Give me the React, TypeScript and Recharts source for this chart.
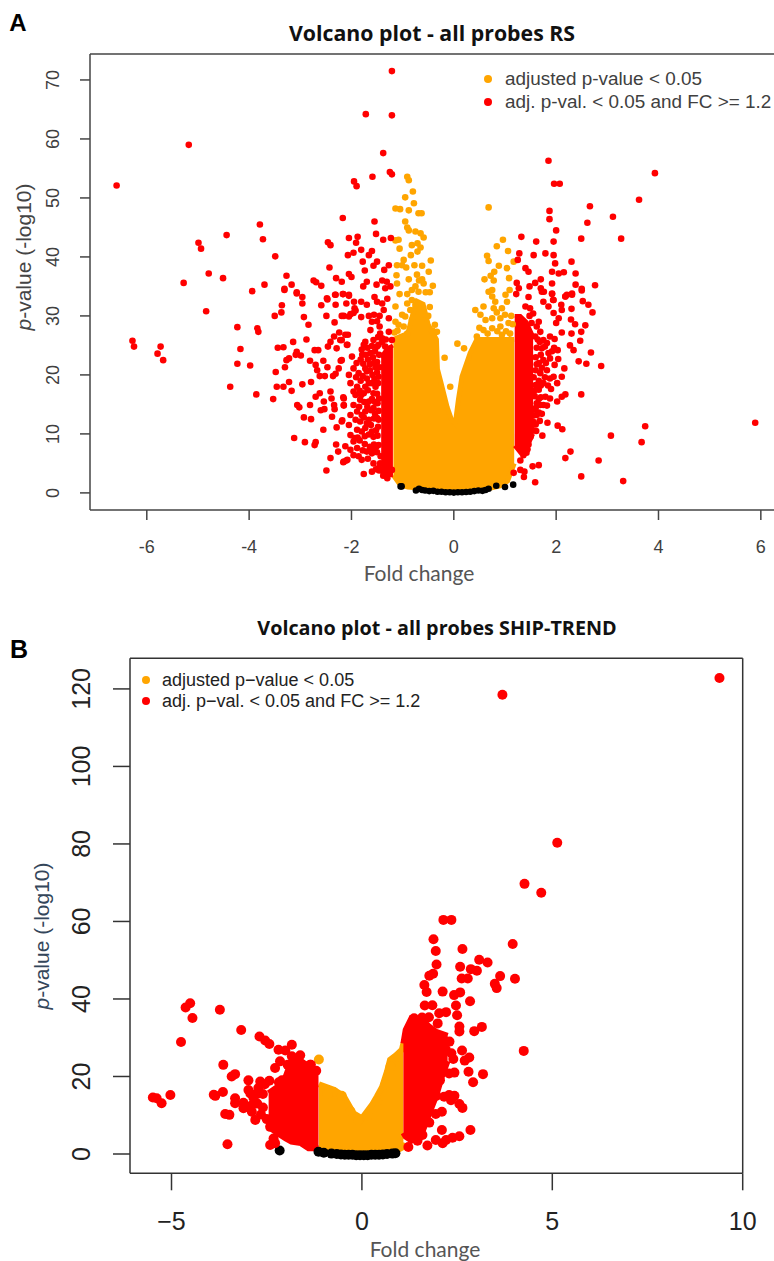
import React from 'react';
import {
  Area,
  ComposedChart,
  ReferenceLine,
  Scatter,
  XAxis,
  YAxis,
} from 'recharts';

type Pair = [number, number];
type Band = [number, number, number];

const ORANGE = '#ffa500';
const RED = '#ff0000';
const BLACK = '#000000';

// Panel A (RS) -----------------------------------------------------------
const rsXTicks = [-6, -4, -2, 0, 2, 4, 6];
const rsYTicks = [0, 10, 20, 30, 40, 50, 60, 70];

// solid parts of the cloud: x, lower edge, upper edge
const rsOrangeBand: Band[] = [
  [-1.18, 3, 26], [-1.05, 1.4, 26.5], [-0.9, 1, 27], [-0.78, 0.9, 31], [-0.72, 0.8, 32.5], [-0.6, 0.8, 32],
  [-0.5, 0.8, 28.5], [-0.34, 0.7, 26], [-0.32, 0.7, 21], [-0.26, 0.7, 19], [-0.13, 0.6, 14.5], [-0.05, 0.6, 12.5],
  [0.03, 0.6, 11.8], [0.09, 0.6, 15.8], [0.16, 0.7, 19.7], [0.32, 0.7, 23.7], [0.45, 0.7, 26],
  [0.7, 0.8, 26], [0.9, 1.2, 26], [1.05, 2, 26], [1.18, 5, 26],
];
const rsRedBandLeft: Band[] = [
  [-1.42, 4.5, 23], [-1.3, 3, 24.5], [-1.19, 3, 25],
];
const rsRedBandRight: Band[] = [
  [1.19, 8, 30], [1.3, 6.8, 30], [1.42, 7.5, 29], [1.55, 10, 26.5],
];

const rsRedFarLeft: Pair[] = [
  [-6.59, 52.1], [-5.18, 59], [-6.28, 25.8], [-6.25, 24.8], [-5.73, 24.8], [-5.79, 23.6], [-5.68, 22.5], [-4.84, 30.8],
  [-4.23, 28.1], [-4.17, 24.4], [-4.23, 21.9], [-3.98, 21.6], [-4.37, 18], [-3.86, 16.7], [-3.84, 27.9], [-3.82, 27.3],
  [-3.53, 15.9], [-3.5, 30], [-3.37, 30.6], [-3.36, 31.8], [-3.14, 25.6], [-3.44, 24.6], [-3.33, 24.7], [-3.48, 20.5],
  [-3.3, 21.3], [-3.27, 22.5], [-3.22, 22.8], [-3.09, 23.4], [-3.07, 23.9], [-2.99, 23.3], [-3.22, 18.8], [-3.46, 18],
  [-3.33, 18], [-3.17, 17.3], [-2.96, 18.4], [-2.79, 18.8], [-3.06, 14.9], [-3.02, 14.5], [-2.81, 14.9], [-2.93, 12.8],
  [-2.79, 12.5], [-3.12, 9.3], [-2.91, 8.6], [-2.7, 8.6], [-2.72, 8.1], [-2.88, 26], [-2.93, 29.8], [-2.84, 28.5],
  [-2.96, 32.1], [-2.96, 33.2], [-3.07, 33.8], [-3.31, 34.4], [-3.94, 34.2], [-4.99, 42.4], [-4.94, 41.4], [-4.44, 43.7],
  [-3.79, 45.5], [-3.73, 43], [-3.49, 40.1], [-4.79, 37.2], [-4.51, 36.4], [-5.28, 35.6], [-3.7, 35.3], [-3.27, 36.8],
  [-3.17, 35.3], [-3.31, 34.6], [-3.07, 34], [-2.74, 36], [-2.69, 35.7], [-2.59, 35.1],
];
const rsRedMidLeft: Pair[] = [
  [-2.59, 31.8], [-2.47, 32.8], [-2.49, 30], [-2.31, 31.9], [-2.31, 33.6], [-2.17, 33.7], [-2.05, 33.6], [-2.33, 28.9],
  [-2.1, 32.1], [-1.95, 32.4], [-1.81, 32.4], [-2.15, 30], [-2.02, 30.3], [-1.92, 30.9], [-2.24, 27.2], [-2.34, 26.5],
  [-2.41, 25.6], [-2.46, 24.8], [-2.29, 24.5], [-2.19, 25.9], [-2.07, 26.8], [-2.08, 25.1], [-2.72, 24.2], [-2.65, 24.2],
  [-2.81, 22.4], [-2.7, 21.7], [-2.67, 20.8], [-2.55, 22.4], [-2.47, 21.3], [-2.62, 19.8], [-2.52, 19.8], [-2.36, 19.8],
  [-2.31, 20.2], [-2.25, 21.1], [-2.21, 22.4], [-2.62, 16.9], [-2.7, 16.3], [-2.41, 17.2], [-2.54, 15.5], [-2.6, 14],
  [-2.53, 14.2], [-2.39, 16], [-2.34, 14.9], [-2.33, 14.2], [-2.38, 12.9], [-2.16, 16.2], [-2.15, 14.8], [-2.18, 12.3],
  [-2.29, 11.1], [-2.55, 10.7], [-2.3, 8.2], [-2.26, 7], [-2.41, 5.9], [-2.49, 3.8], [-2.16, 5.2], [-2.1, 5.5],
  [-2.46, 42.5], [-2.41, 42], [-2.17, 46.6], [-1.95, 52.8], [-1.9, 52], [-2.05, 43.2], [-1.88, 43.4], [-1.91, 42.4],
  [-1.81, 41.2], [-2.07, 40.3], [-1.96, 40.7], [-1.78, 39.2], [-2.43, 38.2], [-1.74, 37.7], [-2.3, 36.4], [-2.19, 35.8],
  [-2.05, 37.1], [-2, 36.6], [-2.48, 33], [-2.32, 33.6], [-1.7, 35.8], [-1.77, 35], [-2.16, 33.7], [-2.05, 33.4],
  [-1.94, 31.3], [-1.7, 31.9], [-2.19, 30], [-2.05, 29.9], [-1.96, 30.5], [-1.81, 29.8], [-2.12, 26.8], [-2.22, 25.9], [-2.09, 25.1],
];
const rsRedDenseLeft: Pair[] = [
  [-1.99, 23.1], [-2.19, 22.5], [-1.96, 21.1], [-2.05, 20], [-1.76, 25.1], [-1.79, 23.4], [-1.63, 23.7], [-1.47, 25.1],
  [-1.57, 22], [-1.73, 21.1], [-1.86, 20.3], [-1.7, 19.4], [-2.02, 18.6], [-1.89, 18], [-1.96, 17.2], [-1.73, 18],
  [-1.6, 18.6], [-1.76, 16.9], [-1.57, 16.9], [-2.15, 16], [-2.15, 14.9], [-1.96, 14.9], [-1.83, 15.8], [-1.66, 15.5],
  [-1.89, 13.8], [-2.02, 13.2], [-1.73, 13.8], [-1.57, 14.4], [-2.19, 12.1], [-2.05, 11.5], [-1.83, 12.1], [-1.66, 12.4],
  [-1.5, 12.7], [-1.89, 10.7], [-1.73, 11], [-1.57, 9.5], [-2.02, 9.8], [-1.96, 8.7], [-2.12, 7.9], [-2.02, 7.3],
  [-1.89, 7.6], [-1.96, 6.4], [-2.15, 5.3], [-2.08, 5.6], [-1.6, 6.7], [-1.57, 5], [-1.43, 6.2], [-1.47, 4.2],
  [-1.34, 4.2], [-1.76, 3.2], [-1.6, 3.6], [-1.3, 2.5], [-1.21, 3.9], [-1.8, 24.3], [-1.69, 24.6], [-1.54, 24],
  [-1.82, 22.6], [-1.68, 22.6], [-1.5, 22.2], [-1.64, 20.8], [-1.5, 20.4], [-1.78, 19.8], [-1.55, 19.3], [-1.48, 18.6],
  [-1.68, 17.4], [-1.84, 17.3], [-1.5, 16.8], [-1.75, 15.4], [-1.49, 15.2], [-1.62, 14], [-1.8, 13.2], [-1.47, 13.9],
  [-1.92, 12.4], [-1.62, 11.5], [-1.48, 11.2], [-1.8, 10.4], [-1.66, 9.9], [-1.49, 9.7], [-1.84, 8.9], [-1.74, 8.3],
  [-1.56, 8.2], [-1.47, 8.1], [-1.86, 6.2], [-1.68, 5.8], [-1.5, 6.9], [-1.44, 5], [-1.64, 7.8], [-1.94, 9.3],
  [-1.48, 26.4], [-1.6, 24.9], [-1.5, 24.8], [-1.34, 24.8], [-1.73, 25.6], [-1.57, 25.9], [-1.4, 25.6], [-1.21, 25.9],
  [-1.63, 27.6], [-1.44, 27], [-1.27, 27.3], [-1.45, 28.2], [-1.56, 30.2], [-1.66, 30], [-1.45, 30], [-1.6, 29],
  [-1.5, 29.1], [-1.37, 31], [-1.27, 29.6], [-1.4, 26.2], [-1.33, 26],
  [-1.72, 23.4], [-1.58, 23], [-1.46, 23.4], [-1.9, 22], [-1.77, 21.9], [-1.64, 21.8], [-1.53, 21.3], [-1.45, 21.3], [-1.91, 19.6],
  [-1.7, 20.6], [-1.59, 20], [-1.47, 19.7], [-1.82, 19], [-1.66, 18.6], [-1.53, 18], [-1.92, 16.6], [-1.81, 16.6], [-1.6, 15.9],
  [-1.46, 16], [-1.54, 15.4], [-1.69, 14.6], [-1.54, 13.4], [-1.85, 14.6], [-1.76, 12.8], [-1.56, 12.6], [-1.47, 12.4], [-1.7, 11.8],
  [-1.52, 10.6], [-1.6, 10.4], [-1.74, 9.6], [-1.88, 9.4], [-1.58, 7.4], [-1.52, 7.8], [-1.7, 7], [-1.78, 7.2], [-1.8, 5.6],
  [-1.46, 3.8], [-1.38, 3.6], [-1.52, 4], [-1.38, 2.9],
];
const rsRedTopMiddle: Pair[] = [
  [-1.21, 71.5], [-1.21, 64], [-1.72, 64.2], [-1.38, 57.6], [-1.25, 54.4], [-1.21, 54], [-1.59, 53.6], [-1.55, 46],
  [-1.52, 43.9], [-1.23, 43.2], [-1.38, 42.9], [-1.6, 41], [-1.66, 40.3], [-1.5, 39.2], [-1.57, 38.5], [-1.36, 37.8],
  [-1.27, 38.6], [-1.4, 36], [-1.51, 35.3], [-1.31, 35.8], [-1.24, 35], [-1.34, 34.7], [-1.55, 33.2], [-1.5, 32.4],
  [-1.3, 32.9], [-1.4, 32.1],
];
const rsRedRight: Pair[] = [
  [5.89, 11.9], [3.74, 11.3], [3.07, 9.7], [3.67, 8.6], [2.28, 7], [2.18, 5.9], [2.83, 5.5], [2.49, 2.8], [3.31, 2],
  [1.59, 1.8], [1.37, 2.7], [1.54, 4.5], [1.66, 4.7], [1.3, 5.5], [1.17, 3.4], [1.3, 3.9], [1.38, 3.6], [1.73, 9.7],
  [1.61, 10.5], [1.83, 11.9], [2.03, 11.4], [2.12, 10.8], [1.68, 12.2], [2.49, 16.7], [2.88, 21.5], [2.59, 21.9],
  [2.44, 22.3], [2.68, 23.8], [2.34, 24.2], [2.27, 25], [2.47, 25.8], [2.49, 27.3], [2.3, 27], [2.11, 27.2], [2.57, 28.4],
  [2.37, 28.6], [2.29, 29.4], [2.71, 30.6], [2.63, 31.9], [2.52, 32.5], [2.3, 31.2], [2.11, 31], [2.1, 31.9], [2.31, 33.6],
  [2.18, 33.3], [2.5, 34.3], [1.92, 33.7], [1.95, 32.7], [1.75, 32.4], [1.85, 31.6], [1.4, 31.6], [1.49, 31.3], [1.72, 34.1],
  [1.95, 30.5], [2.05, 29.6], [2, 28.8], [1.88, 26.5], [2.03, 24.2], [2.04, 22.7], [2.16, 21.1], [1.95, 19.7],
  [2.11, 19.7], [2.02, 18.6], [1.9, 17.6], [2.18, 16.7], [2.11, 16.3], [2.02, 15.5], [1.88, 16], [1.75, 14.9], [1.62, 15.2],
  [1.82, 14.8], [1.75, 25.9], [1.82, 25.4], [1.72, 24.5], [1.85, 23.7], [1.75, 22.5], [1.88, 22.8], [1.82, 20.8], [1.69, 20.3],
  [1.88, 19.4], [1.75, 18.6], [1.66, 17.5], [1.79, 16.3], [1.69, 14.9], [1.56, 14.1], [1.62, 13.2], [1.5, 11], [1.69, 27.3],
  [1.66, 29], [1.59, 26.5], [1.62, 28.2], [1.52, 28.8], [1.55, 30.4], [1.48, 30], [1.96, 24.6], [1.97, 21.7], [1.92, 24], [1.97, 26.1],
  [1.62, 24.6], [1.68, 25.6], [1.6, 23], [1.66, 22], [1.6, 20.8], [1.66, 19], [1.6, 18.3], [1.56, 19.6], [1.58, 16.4], [1.7, 16.2],
  [1.56, 12], [1.6, 11.6], [1.46, 8.2], [1.5, 9.5], [1.42, 6.8], [1.36, 6.4],
  [1.7, 23.4], [1.78, 24.8], [1.64, 26], [1.8, 22], [1.72, 21.2], [1.62, 21.8], [1.78, 19.6], [1.7, 18.2], [1.58, 17.4], [1.84, 18.2],
  [1.66, 15.9], [1.6, 14.4], [1.56, 13.1], [1.52, 12], [1.5, 10.3], [1.55, 10.6], [1.66, 13.6], [1.72, 13.4], [1.44, 7.4],
];
const rsRedTopRight: Pair[] = [
  [1.85, 56.3], [1.96, 52.4], [2.07, 52.4], [3.93, 54.2], [3.62, 49.7], [2.66, 48.6], [3.11, 46.8], [1.87, 47.8], [1.87, 46.4],
  [2.61, 45.8], [2, 44.5], [3.27, 43.1], [2.49, 43.1], [1.32, 43.4], [1.61, 42.6], [1.95, 42.6], [1.28, 40.6], [1.25, 39.5],
  [1.56, 40.3], [1.79, 40.6], [1.95, 40.3], [2.3, 39.2], [1.98, 38.9], [1.4, 38.1], [1.46, 37.5], [1.92, 37.5], [2.05, 37.2],
  [2.15, 37.4], [2.38, 37.2], [1.7, 36.2], [1.92, 35.5], [2.38, 35.3], [2.76, 35.2], [2.5, 34.6], [1.23, 35.6], [1.27, 34.7],
  [1.59, 35.6], [1.48, 35], [1.7, 34.7], [1.76, 34.1], [1.22, 33.7], [1.46, 33.2], [1.92, 33.8], [1.94, 32.7], [2.21, 33.6],
  [2.31, 33.8], [2.18, 33.3],
];
const rsOrangeLeftLobe: Pair[] = [
  [-0.91, 53.6], [-0.88, 53], [-0.95, 50.1], [-0.8, 51.1], [-0.78, 49.1], [-1.14, 48.2], [-1.05, 48.1], [-0.88, 47.9], [-0.69, 47.4],
  [-0.63, 47.4], [-0.95, 46], [-0.91, 45], [-0.88, 44.5], [-0.75, 44.3], [-0.65, 44], [-0.59, 43.3], [-0.71, 42.3], [-0.65, 41.6],
  [-0.71, 40.9], [-0.82, 42], [-0.84, 40.3], [-1.08, 42.9], [-1.14, 42.8], [-1.06, 41.4], [-0.98, 39.5], [-1.11, 38.6], [-1.01, 38.6],
  [-0.93, 38.2], [-0.77, 38.6], [-0.62, 38.5], [-0.49, 37.5], [-0.45, 39.4], [-1.12, 36.9], [-1.11, 35.5], [-0.88, 36.2], [-0.62, 36.2],
  [-0.75, 35], [-0.59, 35.5], [-0.41, 35.1], [-0.82, 34.4], [-0.69, 34.1], [-0.91, 33.7], [-1.06, 33.7], [-0.47, 34], [-1.14, 31.6],
  [-1.01, 30.2], [-1.14, 29], [-0.95, 29.9], [-0.98, 28.2], [-0.82, 29.3], [-0.75, 31.9], [-0.47, 31.5], [-0.37, 28.5], [-0.33, 27.3],
  [-0.82, 32.7], [-0.91, 32.1], [-0.85, 31], [-1.08, 28.5], [-0.91, 27], [-0.72, 37], [-0.68, 36], [-0.55, 34], [-0.5, 30],
  [-1.1, 27.5], [-1.16, 27.2], [-0.42, 27.5], [-0.18, 22.9], [-0.07, 18],
];
const rsOrangeRightLobe: Pair[] = [
  [0.68, 48.4], [0.96, 42.9], [0.84, 41.8], [1.06, 41], [0.65, 40.2], [0.68, 39.3], [1.17, 39.2], [0.88, 38.5], [1.04, 38.1], [0.79, 37.5],
  [0.72, 36.8], [0.6, 36.2], [0.78, 36], [1.08, 36.4], [0.75, 34.4], [0.68, 34.1], [0.75, 33.3], [1.09, 34.4], [1.01, 33.6], [0.81, 32.4],
  [1.04, 32.4], [0.42, 31], [0.58, 31.6], [0.52, 30.2], [0.78, 31.3], [0.94, 31.3], [0.62, 29.3], [0.75, 29.6], [0.91, 29.6], [0.91, 28.2],
  [1.07, 28.8], [0.75, 27.9], [0.58, 27.6], [0.45, 26.5], [0.94, 26.8], [1.1, 27], [1, 30.2], [1.12, 30], [1.15, 28.6], [0.84, 30.6],
  [0.5, 28], [0.66, 27], [0.85, 27.4], [1.02, 27.4], [0.07, 25.3], [0.2, 24.5],
];
const rsBlack: Pair[] = [
  [-1.04, 1.1], [-1.02, 1.1], [-0.74, 0.4], [-0.68, 0.7], [-0.62, 0.5], [-0.56, 0.4], [-0.48, 0.3], [-0.4, 0.35], [-0.32, 0.2],
  [-0.24, 0.2], [-0.16, 0.1], [-0.08, 0.1], [0, 0.05], [0.08, 0.1], [0.16, 0.1], [0.24, 0.15], [0.32, 0.2], [0.4, 0.3], [0.48, 0.4],
  [0.56, 0.35], [0.62, 0.5], [0.68, 0.7], [0.83, 1.2], [1, 1], [1.16, 1.4],
];

// Panel B (SHIP-TREND) -----------------------------------------------------
const shipXTicks = [-5, 0, 5, 10];
const shipYTicks = [0, 20, 40, 60, 80, 100, 120];

const shipOrangeBand: Band[] = [
  [-1.13, 1, 18], [-0.74, 0.6, 16.6], [-0.48, 0.4, 15], [-0.22, 0.4, 10.5], [0, 0.4, 9.2], [0.26, 0.4, 12.6],
  [0.39, 0.4, 14.8], [0.53, 0.4, 17.3], [0.66, 0.5, 21.3], [0.74, 0.6, 24.3], [0.9, 0.8, 25.5], [1.05, 1.6, 26.9], [1.09, 3, 28.6],
];
const shipRedBandLeft: Band[] = [
  [-2.45, 7, 15.7], [-2.2, 5.3, 17.4], [-2, 4, 20], [-1.85, 3.2, 24], [-1.6, 2.8, 24], [-1.4, 1.5, 22.6], [-1.14, 1.5, 21],
];
const shipRedBandRight: Band[] = [
  [1.09, 5.5, 28.5], [1.15, 4.5, 32], [1.3, 3.5, 35], [1.6, 6, 34.5], [1.75, 10, 33], [1.95, 15, 31.5], [2.1, 20, 31], [2.25, 24, 30.5],
];

const shipRedLeft: Pair[] = [
  [-5.49, 14.6], [-5.39, 14.4], [-5.26, 13.1], [-5.03, 15.2], [-4.75, 28.9], [-4.63, 37.8], [-4.51, 38.9], [-4.45, 35.1], [-3.73, 37.2],
  [-3.17, 32], [-2.69, 30.3], [-2.54, 29.3], [-2.43, 28.4], [-1.84, 28.2], [-2.19, 26.9], [-2.01, 26.7], [-3.64, 23], [-3.42, 20],
  [-3.33, 20.6], [-3.89, 15.3], [-3.85, 15], [-3.65, 16], [-3.33, 14.4], [-3.33, 13.1], [-3.11, 11.8], [-3.11, 13.2], [-3.59, 10.3],
  [-3.48, 10.1], [-3.53, 2.5], [-2.98, 19], [-2.98, 16.5], [-2.93, 15.6], [-2.67, 18.7], [-2.43, 18.9], [-2.72, 17], [-2.89, 10.9],
  [-2.8, 8.8], [-2.41, 7], [-2.41, 2.3], [-2.32, 4], [-2.28, 2.8], [-2.28, 22.2], [-2.15, 23.9], [-1.84, 25.2], [-1.95, 23],
  [-1.34, 23], [-2.85, 14.5], [-2.75, 13], [-2.6, 15.5], [-2.9, 12.5], [-2.65, 10.2], [-2.55, 18], [-2.75, 15.5], [-2.6, 12],
  [-2.5, 9], [-2.1, 19], [-2.18, 18.5], [-1.62, 25.5], [-1.36, 23], [-1.2, 21.5],
];
const shipRedRight: Pair[] = [
  [9.39, 122.8], [3.69, 118.5], [5.13, 80.3], [4.27, 69.7], [4.71, 67.4], [2.14, 60.4], [2.35, 60.4],
  [1.88, 55.4], [1.94, 52.4], [2.64, 52.9], [3.96, 54.2], [1.96, 48.9], [3.08, 50.1], [3.3, 49.4], [2.58, 48.3], [2.86, 47.7],
  [3.02, 47.3], [1.77, 46], [1.87, 46.5], [3.63, 45.9], [4.02, 45.2], [3.49, 43.9], [3.54, 42.8], [2.62, 45.3], [2.78, 45.3],
  [1.64, 43.6], [1.7, 41.8], [2.12, 41.9], [2.42, 41], [2.58, 41.7], [2.84, 39.4], [2.47, 38.3], [1.65, 38.3], [1.85, 38.4],
  [2.21, 36.6], [2.03, 36.3], [2.5, 35.8], [1.37, 35], [1.58, 35.2], [1.76, 35.3], [1.99, 33.7], [2.56, 32.9], [2.56, 31.6],
  [2.95, 31.7], [3.15, 32.8], [4.25, 26.6], [2.63, 26.7], [2.82, 24.9], [2.7, 24.1], [2.8, 21.2], [3.18, 20.6], [2.92, 18.5],
  [2.43, 21], [2.29, 20.8], [2.43, 15], [2.29, 15.2], [2.16, 14.8], [2.34, 13.9], [2.56, 12.9], [2.64, 11.9], [2.1, 10.9],
  [1.94, 10.3], [1.77, 8.1], [2.1, 6.2], [2.85, 6.2], [2.56, 4.6], [2.38, 4.2], [2.21, 3.6], [1.94, 3.6], [2.12, 2.8], [1.72, 2.2],
  [1.46, 3.4], [1.22, 1.8], [1.59, 4.9], [2.2, 27], [2.3, 29], [2.35, 26], [2.4, 24.5], [2.1, 22], [2.05, 19], [1.95, 15],
];
const shipOrangeExtra: Pair[] = [
  [-1.13, 24.4], [-0.74, 16], [-0.53, 15], [-0.9, 15.6], [-0.3, 11], [-0.1, 8.6], [0.15, 9.8], [0.4, 13.6], [0.62, 18], [0.75, 22.5], [0.95, 25],
];
const shipBlack: Pair[] = [
  [-2.16, 0.9], [-1.14, 0.6], [-1, 0.3], [-0.8, 0.1], [-0.66, 0], [-0.55, -0.1], [-0.45, -0.2], [-0.35, -0.2], [-0.25, -0.2], [-0.15, -0.3],
  [-0.05, -0.3], [0.05, -0.3], [0.15, -0.3], [0.25, -0.2], [0.35, -0.2], [0.45, -0.2], [0.55, -0.1], [0.66, 0], [0.8, 0.1], [0.88, 0.2],
];

const toPoints = (pairs: Pair[]) => pairs.map(([x, y]) => ({ x, y }));
const toBand = (rows: Band[]) => rows.map(([x, lo, hi]) => ({ x, band: [lo, hi] }));

const dot = (r: number, fill: string) => (props: any) => (
  <circle cx={props.cx} cy={props.cy} r={r} fill={fill} />
);

// rotated y tick, the R way
const rotatedTick = (fontSize: number, color: string, gap: number) => (props: any) => (
  <text
    x={props.x - gap}
    y={props.y}
    fontSize={fontSize}
    fill={color}
    fontFamily="Liberation Sans"
    textAnchor="middle"
    transform={`rotate(-90 ${props.x - gap} ${props.y})`}
  >
    {props.payload.value}
  </text>
);

const Caption: React.FC<{
  x: number;
  y: number;
  size: number;
  color: string;
  font: string;
  bold?: boolean;
  rotate?: boolean;
  children: React.ReactNode;
}> = ({ x, y, size, color, font, bold, rotate, children }) => (
  <div
    style={{
      position: 'absolute',
      left: x,
      top: y,
      transform: `translate(-50%, -50%)${rotate ? ' rotate(-90deg)' : ''}`,
      fontSize: size,
      color,
      fontFamily: font,
      fontWeight: bold ? 700 : 400,
      whiteSpace: 'nowrap',
      lineHeight: 1,
    }}
  >
    {children}
  </div>
);

const LegendRow: React.FC<{
  dotX: number;
  textX: number;
  y: number;
  size: number;
  color: string;
  fill: string;
  label: string;
}> = ({ dotX, textX, y, size, color, fill, label }) => (
  <>
    <div
      style={{
        position: 'absolute',
        left: dotX - 4,
        top: y - 4,
        width: 8,
        height: 8,
        borderRadius: '50%',
        background: fill,
      }}
    />
    <div
      style={{
        position: 'absolute',
        left: textX,
        top: y - size / 2,
        fontSize: size,
        lineHeight: 1,
        color,
        fontFamily: 'Liberation Sans',
        whiteSpace: 'nowrap',
      }}
    >
      {label}
    </div>
  </>
);

const AXIS_A = '#444444';
const AXIS_B = '#333333';

const RsChart = () => {
  const r = 3.3;
  return (
    <ComposedChart width={790} height={600} margin={{ top: 54, right: 0, bottom: 0, left: 0 }}>
      <XAxis
        dataKey="x"
        type="number"
        domain={[-7.11, 6.57]}
        ticks={rsXTicks}
        interval={0}
        height={90}
        tickSize={10}
        tickMargin={20}
        allowDataOverflow
        axisLine={{ stroke: AXIS_A, strokeWidth: 1.5 }}
        tickLine={{ stroke: AXIS_A, strokeWidth: 1.5 }}
        tick={{ fill: '#404040', fontSize: 18, fontFamily: 'Liberation Sans' }}
      />
      <YAxis
        dataKey="y"
        type="number"
        domain={[-2.9, 74.4]}
        ticks={rsYTicks}
        interval={0}
        width={90}
        tickSize={10}
        allowDataOverflow
        axisLine={{ stroke: AXIS_A, strokeWidth: 1.5 }}
        tickLine={{ stroke: AXIS_A, strokeWidth: 1.5 }}
        tick={rotatedTick(18, '#404040', 19)}
      />
      <ReferenceLine y={74.4} stroke={AXIS_A} strokeWidth={1.5} />
      <Scatter data={toPoints(rsBlack)} shape={dot(r, BLACK)} isAnimationActive={false} />
      <Area data={toBand(rsOrangeBand)} dataKey="band" type="linear" fill={ORANGE} fillOpacity={1} stroke={ORANGE} strokeWidth={5} dot={false} activeDot={false} isAnimationActive={false} />
      <Scatter data={toPoints(rsOrangeLeftLobe)} shape={dot(r, ORANGE)} isAnimationActive={false} />
      <Scatter data={toPoints(rsOrangeRightLobe)} shape={dot(r, ORANGE)} isAnimationActive={false} />
      <Area data={toBand(rsRedBandLeft)} dataKey="band" type="linear" fill={RED} fillOpacity={1} stroke={RED} strokeWidth={4} dot={false} activeDot={false} isAnimationActive={false} />
      <Area data={toBand(rsRedBandRight)} dataKey="band" type="linear" fill={RED} fillOpacity={1} stroke={RED} strokeWidth={4} dot={false} activeDot={false} isAnimationActive={false} />
      <Scatter data={toPoints(rsRedFarLeft)} shape={dot(r, RED)} isAnimationActive={false} />
      <Scatter data={toPoints(rsRedMidLeft)} shape={dot(r, RED)} isAnimationActive={false} />
      <Scatter data={toPoints(rsRedDenseLeft)} shape={dot(r, RED)} isAnimationActive={false} />
      <Scatter data={toPoints(rsRedTopMiddle)} shape={dot(r, RED)} isAnimationActive={false} />
      <Scatter data={toPoints(rsRedRight)} shape={dot(r, RED)} isAnimationActive={false} />
      <Scatter data={toPoints(rsRedTopRight)} shape={dot(r, RED)} isAnimationActive={false} />
    </ComposedChart>
  );
};

const ShipChart = () => {
  const r = 5;
  return (
    <ComposedChart width={774} height={661} margin={{ top: 58.3, right: 31.3, bottom: 0, left: 0 }}>
      <XAxis
        dataKey="x"
        type="number"
        domain={[-6.09, 10]}
        ticks={shipXTicks}
        interval={0}
        height={87.7}
        tickSize={17}
        tickMargin={22}
        allowDataOverflow
        axisLine={{ stroke: AXIS_B, strokeWidth: 1.5 }}
        tickLine={{ stroke: AXIS_B, strokeWidth: 1.5 }}
        tickFormatter={(v: number) => String(v).replace('-', '\u2212')}
        tick={{ fill: '#222222', fontSize: 25, fontFamily: 'Liberation Sans' }}
      />
      <YAxis
        dataKey="y"
        type="number"
        domain={[-4.98, 127.9]}
        ticks={shipYTicks}
        interval={0}
        width={130}
        tickSize={17}
        allowDataOverflow
        axisLine={{ stroke: AXIS_B, strokeWidth: 1.5 }}
        tickLine={{ stroke: AXIS_B, strokeWidth: 1.5 }}
        tick={rotatedTick(25, '#222222', 21)}
      />
      <ReferenceLine y={127.9} stroke={AXIS_B} strokeWidth={1.5} />
      <ReferenceLine x={10} stroke={AXIS_B} strokeWidth={1.5} />
      <Scatter data={toPoints(shipBlack)} shape={dot(r, BLACK)} isAnimationActive={false} />
      <Area data={toBand(shipOrangeBand)} dataKey="band" type="linear" fill={ORANGE} fillOpacity={1} stroke={ORANGE} strokeWidth={6} dot={false} activeDot={false} isAnimationActive={false} />
      <Scatter data={toPoints(shipOrangeExtra)} shape={dot(r, ORANGE)} isAnimationActive={false} />
      <Area data={toBand(shipRedBandLeft)} dataKey="band" type="linear" fill={RED} fillOpacity={1} stroke={RED} strokeWidth={6} dot={false} activeDot={false} isAnimationActive={false} />
      <Area data={toBand(shipRedBandRight)} dataKey="band" type="linear" fill={RED} fillOpacity={1} stroke={RED} strokeWidth={6} dot={false} activeDot={false} isAnimationActive={false} />
      <Scatter data={toPoints(shipRedLeft)} shape={dot(r, RED)} isAnimationActive={false} />
      <Scatter data={toPoints(shipRedRight)} shape={dot(r, RED)} isAnimationActive={false} />
    </ComposedChart>
  );
};

export default function App() {
  return (
    <div style={{ position: 'absolute', left: 0, top: 0, width: 774, height: 1261, overflow: 'hidden', background: '#ffffff' }}>
      <div style={{ position: 'absolute', left: 0, top: 0 }}>
        <RsChart />
      </div>
      <div style={{ position: 'absolute', left: 0, top: 600 }}>
        <ShipChart />
      </div>

      <Caption x={18} y={23} size={24} color="#000" font="Liberation Sans" bold>A</Caption>
      <Caption x={19} y={649} size={25} color="#000" font="Liberation Sans" bold>B</Caption>

      <Caption x={432} y={33} size={21.3} color="#111" font="Open Sans" bold>Volcano plot - all probes RS</Caption>
      <Caption x={437} y={628} size={19.8} color="#111" font="Open Sans" bold>Volcano plot - all probes SHIP-TREND</Caption>

      <Caption x={23} y={257} size={21} color="#444" font="Liberation Sans" rotate><i>p</i>-value (-log10)</Caption>
      <Caption x={41} y={936} size={21} color="#34465a" font="Liberation Sans" rotate><i>p</i>-value (-log10)</Caption>
      <Caption x={419} y={572} size={21} color="#555" font="Lato">Fold change</Caption>
      <Caption x={425} y={1248} size={21} color="#555" font="Lato">Fold change</Caption>

      <LegendRow dotX={488} textX={505} y={79} size={18.9} color="#404040" fill={ORANGE} label="adjusted p-value < 0.05" />
      <LegendRow dotX={488} textX={505} y={102} size={18.9} color="#404040" fill={RED} label="adj. p-val. < 0.05 and FC >= 1.2" />
      <LegendRow dotX={145.5} textX={162} y={680} size={18} color="#222" fill={ORANGE} label={'adjusted p\u2212value < 0.05'} />
      <LegendRow dotX={145.5} textX={162} y={701} size={18} color="#222" fill={RED} label={'adj. p\u2212val. < 0.05 and FC >= 1.2'} />
    </div>
  );
}
